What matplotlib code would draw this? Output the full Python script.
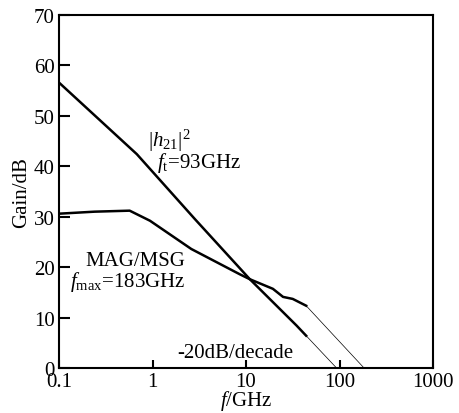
import matplotlib
matplotlib.use("Agg")
import matplotlib.pyplot as plt

plt.rcParams["font.family"] = "Liberation Serif"
plt.rcParams["mathtext.fontset"] = "custom"
plt.rcParams["mathtext.rm"] = "Liberation Serif"
plt.rcParams["mathtext.it"] = "Liberation Serif:italic"

# |h21|^2 measured curve and its -20dB/decade extrapolation
h21_f = [0.1, 0.68, 2.85, 11, 34.8, 44]
h21_db = [56.6, 42.4, 29.5, 17.6, 8.4, 6.4]
h21_ext_f = [44, 93]
h21_ext_db = [6.4, 0]

# MAG/MSG measured curve and its extrapolation
mag_f = [0.1, 0.24, 0.57, 0.94, 2.6, 8.55, 11, 19.4, 24.9, 31.6, 44]
mag_db = [30.6, 31.0, 31.2, 29.2, 23.6, 18.6, 17.6, 15.7, 14.1, 13.7, 12.35]
mag_ext_f = [44, 183]
mag_ext_db = [12.35, 0]

fig = plt.figure(figsize=(4.59, 4.14), dpi=100)
ax = fig.add_axes([59 / 459, 1 - 369 / 414, (433 - 59) / 459, (369 - 16) / 414])

ax.plot(h21_f, h21_db, color="black", lw=1.8)
ax.plot(h21_ext_f, h21_ext_db, color="black", lw=0.5)
ax.plot(mag_f, mag_db, color="black", lw=1.8)
ax.plot(mag_ext_f, mag_ext_db, color="black", lw=0.5)

ax.set_xscale("log")
ax.set_xlim(0.1, 1000)
ax.set_ylim(0, 70)
ax.set_xticks([0.1, 1, 10, 100, 1000])
ax.set_xticklabels(["0.1", "1", "10", "100", "1000"])
ax.set_yticks(range(0, 71, 10))
ax.minorticks_off()
ax.tick_params(axis="both", direction="in", labelsize=15, width=1.5)
ax.tick_params(axis="y", length=8, pad=3)
ax.tick_params(axis="x", length=6, pad=3)
for s in ax.spines.values():
    s.set_linewidth(1.5)

ax.set_ylabel("Gain/dB", fontsize=15, labelpad=2)
ax.set_xlabel("$f$/GHz", fontsize=15, labelpad=-2)

ax.text(0.238, 0.629, r"$|h_{21}|^2$", transform=ax.transAxes, fontsize=15, va="baseline")
ax.text(0.262, 0.57, r"$f_{\rm t}$=93GHz", transform=ax.transAxes, fontsize=15, va="baseline")
ax.text(0.337, 0.292, "MAG/MSG", transform=ax.transAxes, fontsize=15, ha="right", va="baseline")
ax.text(0.337, 0.232, r"$f_{\rm max}$=183GHz", transform=ax.transAxes, fontsize=15, ha="right", va="baseline")
ax.text(0.316, 0.031, "-20dB/decade", transform=ax.transAxes, fontsize=15, va="baseline")

fig.savefig("out.png", dpi=100)
